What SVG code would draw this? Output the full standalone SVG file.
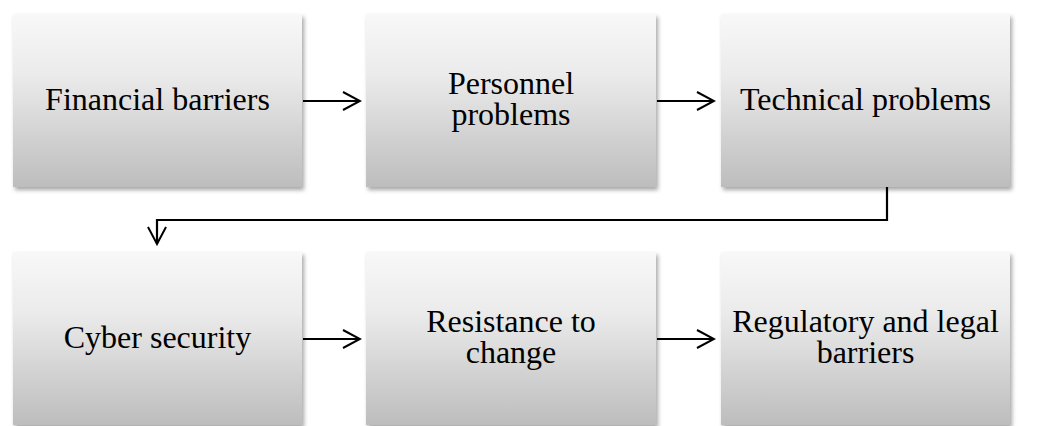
<svg xmlns="http://www.w3.org/2000/svg" width="1046" height="426" viewBox="0 0 1046 426">
<defs>
<linearGradient id="g" x1="0" y1="0" x2="0" y2="1">
<stop offset="0" stop-color="#f8f8f8"/>
<stop offset="0.35" stop-color="#ebebeb"/>
<stop offset="1" stop-color="#bdbdbd"/>
</linearGradient>
<filter id="sh" x="-10%" y="-10%" width="125%" height="125%">
<feDropShadow dx="2" dy="3" stdDeviation="2" flood-color="#000" flood-opacity="0.35"/>
</filter>
<marker id="ah" viewBox="0 0 20 20" markerWidth="20" markerHeight="20" refX="18" refY="10" orient="auto" markerUnits="userSpaceOnUse">
<path d="M1,1 L18,10 L1,19" fill="none" stroke="#000" stroke-width="2"/>
</marker>
</defs>
<style>
.box{fill:url(#g);filter:url(#sh)}
.t{font-family:"Liberation Serif","Times New Roman",serif;font-size:32px;fill:#000;text-anchor:middle}
.c{fill:none;stroke:#000;stroke-width:2.2}
</style>
<rect width="1046" height="426" fill="#fff"/>
<g id="n1"><rect class="box" x="13" y="14" width="289" height="173"/><text class="t" x="157.5" y="110">Financial barriers</text></g>
<g id="n2"><rect class="box" x="366" y="14" width="290" height="173"/><text class="t" x="511" y="94">Personnel</text><text class="t" x="511" y="125">problems</text></g>
<g id="n3"><rect class="box" x="721" y="14" width="289" height="173"/><text class="t" x="865.5" y="110">Technical problems</text></g>
<g id="n4"><rect class="box" x="13" y="252" width="289" height="173"/><text class="t" x="157.5" y="348">Cyber security</text></g>
<g id="n5"><rect class="box" x="366" y="252" width="290" height="173"/><text class="t" x="511" y="332">Resistance to</text><text class="t" x="511" y="363">change</text></g>
<g id="n6"><rect class="box" x="721" y="252" width="289" height="173"/><text class="t" x="865.5" y="332">Regulatory and legal</text><text class="t" x="865.5" y="363">barriers</text></g>
<g id="connectors">
<path class="c" d="M303,101 H360" marker-end="url(#ah)"/>
<path class="c" d="M657,101 H714" marker-end="url(#ah)"/>
<path class="c" d="M887,187 V220 H157 V244" marker-end="url(#ah)"/>
<path class="c" d="M303,339 H360" marker-end="url(#ah)"/>
<path class="c" d="M657,339 H714" marker-end="url(#ah)"/>
</g>
</svg>
